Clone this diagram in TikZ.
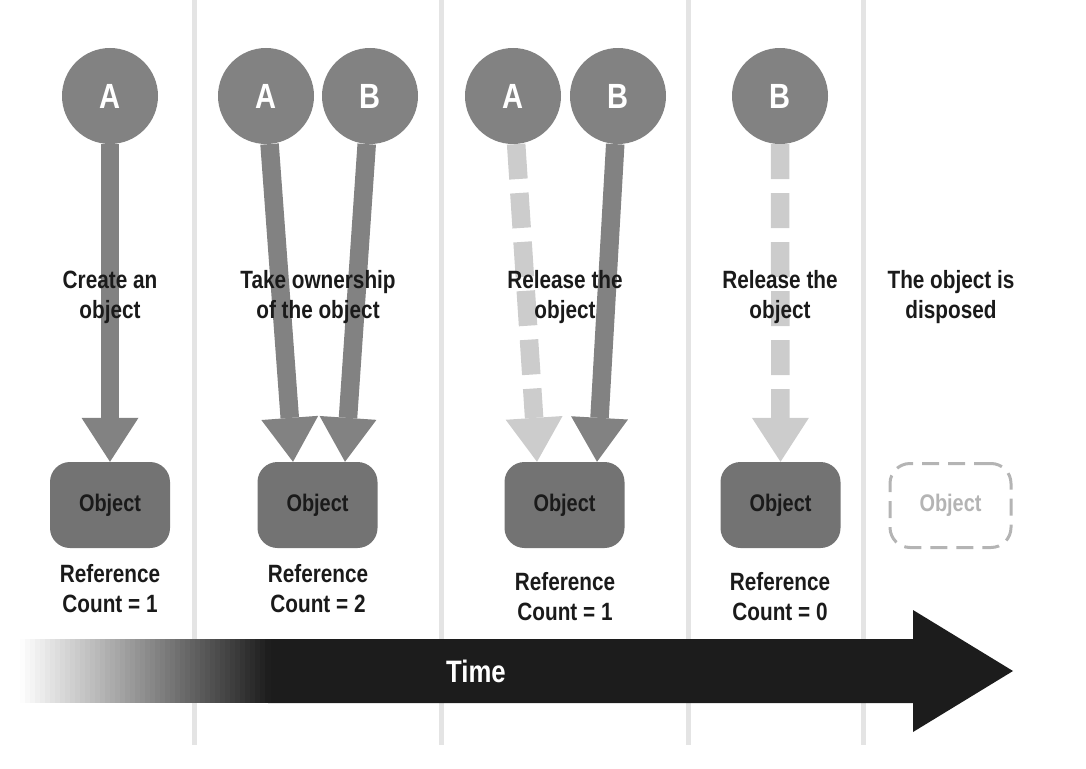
\documentclass[tikz,border=0pt]{standalone}
\usepackage{fontspec}
\newfontfamily\cnd{Liberation Sans}[FakeStretch=0.83]
\usetikzlibrary{calc}
\definecolor{circ}{HTML}{828282}
\definecolor{objfill}{HTML}{737373}
\definecolor{lightarr}{HTML}{CCCCCC}
\definecolor{sepcol}{HTML}{E4E4E4}
\definecolor{darkarr}{HTML}{1C1C1C}
\definecolor{ghost}{HTML}{B4B4B4}
\definecolor{txt}{HTML}{1A1A1A}
\tikzset{
  holder/.style={circle, fill=circ, minimum size=96pt, inner sep=0pt, text=white,
    font=\cnd\bfseries\fontsize{35}{35}\selectfont},
  objbox/.style={rounded corners=20pt, fill=objfill, minimum width=120pt, minimum height=86pt,
    inner sep=0pt, text=txt, font=\cnd\bfseries\fontsize{24}{24}\selectfont},
  ghostbox/.style={rounded corners=20pt, draw=ghost, line width=3pt, dash pattern=on 17pt off 9pt,
    minimum width=121pt, minimum height=84pt, inner sep=0pt, text=ghost,
    font=\cnd\bfseries\fontsize{24}{24}\selectfont},
  lbl/.style={anchor=base, inner sep=0pt, text=txt, font=\cnd\bfseries\fontsize{25}{30}\selectfont},
  shaft/.style={line width=18.5pt},
  dashedshaft/.style={dash pattern=on 35pt off 14pt},
  sepline/.style={draw=sepcol, line width=5pt},
}
\newcommand\refarrow[4]{%
  \coordinate (hb) at ($(#4)!44pt!(#3)$);
  \draw[shaft, draw=#1, #2] (#3) -- (hb);
  \fill[#1] ($(hb)!28.5pt!90:(#4)$) -- ($(hb)!28.5pt!-90:(#4)$) -- (#4) -- cycle;}
\begin{document}
\begin{tikzpicture}[x=1pt, y=-1pt]
\useasboundingbox (0,0) rectangle (1086,768);
% separators
\draw[sepline] (194,0) -- (194,745);
\draw[sepline] (441,0) -- (441,745);
\draw[sepline] (688,0) -- (688,745);
\draw[sepline] (863,0) -- (863,745);
% time arrow
\fill[darkarr] (268,639) -- (913,639) -- (913,610) -- (1013,671) -- (913,732) -- (913,703) -- (268,703) -- cycle;
\foreach \i in {0,...,49} {
  \pgfmathsetmacro{\pct}{2*\i+1}
  \pgfmathsetmacro{\xa}{20+5*\i}
  \pgfmathsetmacro{\xb}{20+5*\i+5.6}
  \fill[darkarr!\pct!white] (\xa,639) rectangle (\xb,703);
}
\node[text=white, font=\cnd\bfseries\fontsize{31}{31}\selectfont] (time) at (476,671) {Time};
% objects
\node[objbox] (o1) at (110,505) {Object};
\node[objbox] (o2) at (317.5,505) {Object};
\node[objbox] (o3) at (564.5,505) {Object};
\node[objbox] (o4) at (780.5,505) {Object};
\node[ghostbox] (o5) at (950.5,505.5) {Object};
% holders (positions)
\coordinate (ca1) at (110,96);
\coordinate (ca2) at (266,96);
\coordinate (cb2) at (370,96);
\coordinate (ca3) at (513,96);
\coordinate (cb3) at (618,96);
\coordinate (cb4) at (780,96);
% tips
\coordinate (t1) at (o1.north);
\coordinate (t2a) at ($(o2.north)+(-24.5,0)$);
\coordinate (t2b) at ($(o2.north)+(27.5,0)$);
\coordinate (t3a) at ($(o3.north)+(-27.5,0)$);
\coordinate (t3b) at ($(o3.north)+(32.5,0)$);
\coordinate (t4) at (o4.north);
% circles
\node[holder] (a1) at (ca1) {A};
\node[holder] (a2) at (ca2) {A};
\node[holder] (b2) at (cb2) {B};
\node[holder] (a3) at (ca3) {A};
\node[holder] (b3) at (cb3) {B};
\node[holder] (b4) at (cb4) {B};
% arrows
\refarrow{circ}{}{a1}{t1}
\refarrow{circ}{}{a2}{t2a}
\refarrow{circ}{}{b2}{t2b}
\refarrow{lightarr}{dashedshaft}{a3}{t3a}
\refarrow{circ}{}{b3}{t3b}
\refarrow{lightarr}{dashedshaft}{b4}{t4}
% labels
\node[lbl] (l1a) at (110,288) {Create an};
\node[lbl] (l1b) at (110,318) {object};
\node[lbl] (l2a) at (318,288) {Take ownership};
\node[lbl] (l2b) at (318,318) {of the object};
\node[lbl] (l3a) at (565,288) {Release the};
\node[lbl] (l3b) at (565,318) {object};
\node[lbl] (l4a) at (780,288) {Release the};
\node[lbl] (l4b) at (780,318) {object};
\node[lbl] (l5a) at (951,288) {The object is};
\node[lbl] (l5b) at (951,318) {disposed};
\node[lbl] (r1a) at (110,582) {Reference};
\node[lbl] (r1b) at (110,612) {Count = 1};
\node[lbl] (r2a) at (318,582) {Reference};
\node[lbl] (r2b) at (318,612) {Count = 2};
\node[lbl] (r3a) at (565,590) {Reference};
\node[lbl] (r3b) at (565,620) {Count = 1};
\node[lbl] (r4a) at (780,590) {Reference};
\node[lbl] (r4b) at (780,620) {Count = 0};
\end{tikzpicture}
\end{document}
